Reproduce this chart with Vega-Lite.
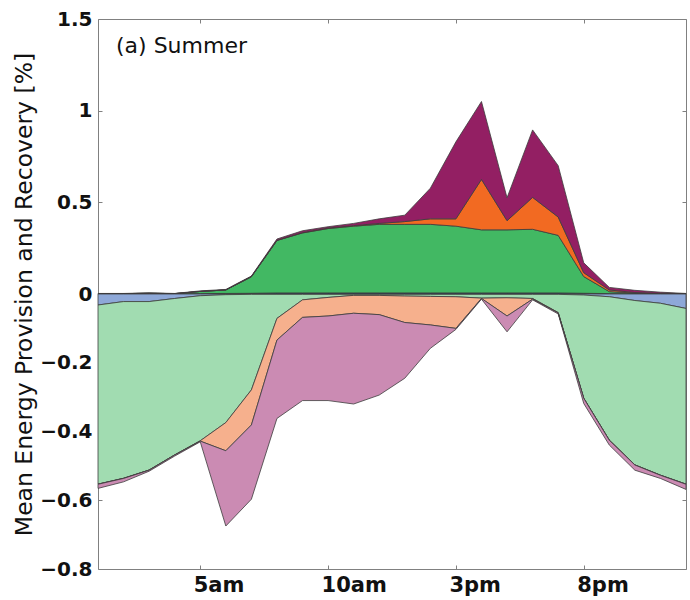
{
  "$schema": "https://vega.github.io/schema/vega-lite/v6.json",
  "width": 588,
  "height": 550,
  "autosize": {"type": "none"},
  "padding": {"left": 98, "top": 19, "right": 3, "bottom": 31},
  "background": "white",
  "config": {"view": {"stroke": "#808080", "strokeWidth": 1}, "font": "DejaVu Sans"},
  "title": {"text": "(a) Summer", "anchor": "start", "frame": "group", "orient": "top", "offset": 0, "dx": 18, "dy": 66, "baseline": "alphabetic", "fontSize": 22, "fontWeight": "normal", "color": "#111111"},
  "data": {"values": [
    {"h":1,"s":"a1","v":0.002},{"h":1,"s":"a2","v":0},{"h":1,"s":"a3","v":0},{"h":1,"s":"a4","v":0.001},
    {"h":2,"s":"a1","v":0.002},{"h":2,"s":"a2","v":0},{"h":2,"s":"a3","v":0},{"h":2,"s":"a4","v":0.001},
    {"h":3,"s":"a1","v":0.002},{"h":3,"s":"a2","v":0.002},{"h":3,"s":"a3","v":0},{"h":3,"s":"a4","v":0.002},
    {"h":4,"s":"a1","v":0.002},{"h":4,"s":"a2","v":0},{"h":4,"s":"a3","v":0},{"h":4,"s":"a4","v":0.001},
    {"h":5,"s":"a1","v":0.002},{"h":5,"s":"a2","v":0.012},{"h":5,"s":"a3","v":0},{"h":5,"s":"a4","v":0.003},
    {"h":6,"s":"a1","v":0.003},{"h":6,"s":"a2","v":0.019},{"h":6,"s":"a3","v":0},{"h":6,"s":"a4","v":0.003},
    {"h":7,"s":"a1","v":0.004},{"h":7,"s":"a2","v":0.09},{"h":7,"s":"a3","v":0.001},{"h":7,"s":"a4","v":0.003},
    {"h":8,"s":"a1","v":0.006},{"h":8,"s":"a2","v":0.286},{"h":8,"s":"a3","v":0.001},{"h":8,"s":"a4","v":0.007},
    {"h":9,"s":"a1","v":0.006},{"h":9,"s":"a2","v":0.327},{"h":9,"s":"a3","v":0.002},{"h":9,"s":"a4","v":0.01},
    {"h":10,"s":"a1","v":0.006},{"h":10,"s":"a2","v":0.351},{"h":10,"s":"a3","v":0.003},{"h":10,"s":"a4","v":0.007},
    {"h":11,"s":"a1","v":0.006},{"h":11,"s":"a2","v":0.364},{"h":11,"s":"a3","v":0.003},{"h":11,"s":"a4","v":0.012},
    {"h":12,"s":"a1","v":0.006},{"h":12,"s":"a2","v":0.374},{"h":12,"s":"a3","v":0.005},{"h":12,"s":"a4","v":0.025},
    {"h":13,"s":"a1","v":0.006},{"h":13,"s":"a2","v":0.374},{"h":13,"s":"a3","v":0.015},{"h":13,"s":"a4","v":0.035},
    {"h":14,"s":"a1","v":0.006},{"h":14,"s":"a2","v":0.374},{"h":14,"s":"a3","v":0.03},{"h":14,"s":"a4","v":0.167},
    {"h":15,"s":"a1","v":0.006},{"h":15,"s":"a2","v":0.364},{"h":15,"s":"a3","v":0.04},{"h":15,"s":"a4","v":0.42},
    {"h":16,"s":"a1","v":0.006},{"h":16,"s":"a2","v":0.344},{"h":16,"s":"a3","v":0.275},{"h":16,"s":"a4","v":0.425},
    {"h":17,"s":"a1","v":0.006},{"h":17,"s":"a2","v":0.344},{"h":17,"s":"a3","v":0.05},{"h":17,"s":"a4","v":0.125},
    {"h":18,"s":"a1","v":0.006},{"h":18,"s":"a2","v":0.347},{"h":18,"s":"a3","v":0.174},{"h":18,"s":"a4","v":0.368},
    {"h":19,"s":"a1","v":0.006},{"h":19,"s":"a2","v":0.314},{"h":19,"s":"a3","v":0.1},{"h":19,"s":"a4","v":0.28},
    {"h":20,"s":"a1","v":0.004},{"h":20,"s":"a2","v":0.091},{"h":20,"s":"a3","v":0.021},{"h":20,"s":"a4","v":0.054},
    {"h":21,"s":"a1","v":0.002},{"h":21,"s":"a2","v":0.011},{"h":21,"s":"a3","v":0.009},{"h":21,"s":"a4","v":0.014},
    {"h":22,"s":"a1","v":0.002},{"h":22,"s":"a2","v":0.003},{"h":22,"s":"a3","v":0.003},{"h":22,"s":"a4","v":0.012},
    {"h":23,"s":"a1","v":0.001},{"h":23,"s":"a2","v":0.002},{"h":23,"s":"a3","v":0.001},{"h":23,"s":"a4","v":0.006},
    {"h":24,"s":"a1","v":0.001},{"h":24,"s":"a2","v":0},{"h":24,"s":"a3","v":0.001},{"h":24,"s":"a4","v":0.001},
    {"h":1,"s":"b1","v":-0.032},{"h":1,"s":"b2","v":-0.521},{"h":1,"s":"b3","v":-0.0005},{"h":1,"s":"b4","v":-0.012},
    {"h":2,"s":"b1","v":-0.022},{"h":2,"s":"b2","v":-0.514},{"h":2,"s":"b3","v":-0.0005},{"h":2,"s":"b4","v":-0.01},
    {"h":3,"s":"b1","v":-0.022},{"h":3,"s":"b2","v":-0.49},{"h":3,"s":"b3","v":-0.0005},{"h":3,"s":"b4","v":-0.003},
    {"h":4,"s":"b1","v":-0.013},{"h":4,"s":"b2","v":-0.455},{"h":4,"s":"b3","v":-0.0005},{"h":4,"s":"b4","v":-0.003},
    {"h":5,"s":"b1","v":-0.005},{"h":5,"s":"b2","v":-0.422},{"h":5,"s":"b3","v":-0.001},{"h":5,"s":"b4","v":-0.002},
    {"h":6,"s":"b1","v":-0.002},{"h":6,"s":"b2","v":-0.372},{"h":6,"s":"b3","v":-0.082},{"h":6,"s":"b4","v":-0.219},
    {"h":7,"s":"b1","v":-0.001},{"h":7,"s":"b2","v":-0.278},{"h":7,"s":"b3","v":-0.102},{"h":7,"s":"b4","v":-0.216},
    {"h":8,"s":"b1","v":-0.001},{"h":8,"s":"b2","v":-0.07},{"h":8,"s":"b3","v":-0.063},{"h":8,"s":"b4","v":-0.228},
    {"h":9,"s":"b1","v":-0.001},{"h":9,"s":"b2","v":-0.016},{"h":9,"s":"b3","v":-0.051},{"h":9,"s":"b4","v":-0.242},
    {"h":10,"s":"b1","v":-0.001},{"h":10,"s":"b2","v":-0.009},{"h":10,"s":"b3","v":-0.054},{"h":10,"s":"b4","v":-0.246},
    {"h":11,"s":"b1","v":-0.001},{"h":11,"s":"b2","v":-0.003},{"h":11,"s":"b3","v":-0.052},{"h":11,"s":"b4","v":-0.264},
    {"h":12,"s":"b1","v":-0.001},{"h":12,"s":"b2","v":-0.003},{"h":12,"s":"b3","v":-0.056},{"h":12,"s":"b4","v":-0.234},
    {"h":13,"s":"b1","v":-0.001},{"h":13,"s":"b2","v":-0.005},{"h":13,"s":"b3","v":-0.077},{"h":13,"s":"b4","v":-0.162},
    {"h":14,"s":"b1","v":-0.001},{"h":14,"s":"b2","v":-0.006},{"h":14,"s":"b3","v":-0.083},{"h":14,"s":"b4","v":-0.068},
    {"h":15,"s":"b1","v":-0.001},{"h":15,"s":"b2","v":-0.007},{"h":15,"s":"b3","v":-0.092},{"h":15,"s":"b4","v":-0.003},
    {"h":16,"s":"b1","v":-0.001},{"h":16,"s":"b2","v":-0.011},{"h":16,"s":"b3","v":-0.001},{"h":16,"s":"b4","v":-0.002},
    {"h":17,"s":"b1","v":-0.001},{"h":17,"s":"b2","v":-0.01},{"h":17,"s":"b3","v":-0.053},{"h":17,"s":"b4","v":-0.046},
    {"h":18,"s":"b1","v":-0.001},{"h":18,"s":"b2","v":-0.012},{"h":18,"s":"b3","v":-0.002},{"h":18,"s":"b4","v":-0.002},
    {"h":19,"s":"b1","v":-0.001},{"h":19,"s":"b2","v":-0.053},{"h":19,"s":"b3","v":-0.001},{"h":19,"s":"b4","v":-0.003},
    {"h":20,"s":"b1","v":-0.003},{"h":20,"s":"b2","v":-0.3},{"h":20,"s":"b3","v":-0.0005},{"h":20,"s":"b4","v":-0.015},
    {"h":21,"s":"b1","v":-0.008},{"h":21,"s":"b2","v":-0.417},{"h":21,"s":"b3","v":-0.0005},{"h":21,"s":"b4","v":-0.014},
    {"h":22,"s":"b1","v":-0.019},{"h":22,"s":"b2","v":-0.478},{"h":22,"s":"b3","v":-0.0005},{"h":22,"s":"b4","v":-0.015},
    {"h":23,"s":"b1","v":-0.027},{"h":23,"s":"b2","v":-0.5},{"h":23,"s":"b3","v":-0.0005},{"h":23,"s":"b4","v":-0.009},
    {"h":24,"s":"b1","v":-0.042},{"h":24,"s":"b2","v":-0.511},{"h":24,"s":"b3","v":-0.0005},{"h":24,"s":"b4","v":-0.015}
  ]},
  "layer": [
    {
      "mark": {"type": "area", "stroke": "#3c3c3c", "strokeWidth": 0.8, "strokeJoin": "round", "interpolate": "linear"},
      "encoding": {
        "x": {"field": "h", "type": "quantitative",
          "scale": {"domain": [1, 24], "nice": false, "zero": false},
          "axis": {"values": [5, 10, 15, 20], "labelExpr": "datum.value == 5 ? '5am' : datum.value == 10 ? '10am' : datum.value == 15 ? '3pm' : '8pm'",
            "title": null, "domain": false, "grid": false, "tickSize": -4, "tickColor": "#808080", "labelPadding": 9,
            "labelFontSize": 21, "labelFontWeight": "bold", "labelColor": "#111111", "labelAlign": "left", "labelOffset": -7, "labelFlush": false}},
        "y": {"field": "v", "type": "quantitative", "stack": "zero",
          "scale": {"domain": [-0.8, 0, 1.5], "range": [550, 275, 0], "nice": false, "zero": false},
          "axis": {"values": [-0.8, -0.6, -0.4, -0.2, 0, 0.5, 1, 1.5], "format": "~g",
            "title": "Mean Energy Provision and Recovery [%]", "titleFontSize": 23.5, "titleFontWeight": "normal", "titleColor": "#111111", "titlePadding": 3,
            "domain": false, "grid": false, "tickSize": -4, "tickColor": "#808080", "labelPadding": 10,
            "labelFontSize": 20, "labelFontWeight": "bold", "labelColor": "#111111", "labelFlush": false}},
        "color": {"field": "s", "type": "nominal",
          "scale": {"domain": ["a1", "a2", "a3", "a4", "b1", "b2", "b3", "b4"],
            "range": ["#2a4f9e", "#42b863", "#f26a22", "#931f63", "#8ea8d8", "#a1dcb1", "#f6b08d", "#cb8bb3"]},
          "legend": null},
        "order": {"field": "s", "sort": "ascending"}
      }
    },
    {
      "mark": {"type": "point", "opacity": 0},
      "encoding": {
        "x": {"field": "h", "type": "quantitative",
          "scale": {"domain": [1, 24], "nice": false, "zero": false},
          "axis": {"orient": "top", "values": [5, 10, 15, 20], "labels": false, "title": null, "domain": false, "grid": false, "tickSize": -4, "tickColor": "#808080"}},
        "y": {"field": "v", "type": "quantitative",
          "scale": {"domain": [-0.8, 0, 1.5], "range": [550, 275, 0], "nice": false, "zero": false},
          "axis": {"orient": "right", "values": [-0.8, -0.6, -0.4, -0.2, 0, 0.5, 1, 1.5], "labels": false, "title": null, "domain": false, "grid": false, "tickSize": -4, "tickColor": "#808080"}}
      }
    }
  ],
  "resolve": {"scale": {"x": "independent", "y": "independent"}, "axis": {"x": "independent", "y": "independent"}}
}
